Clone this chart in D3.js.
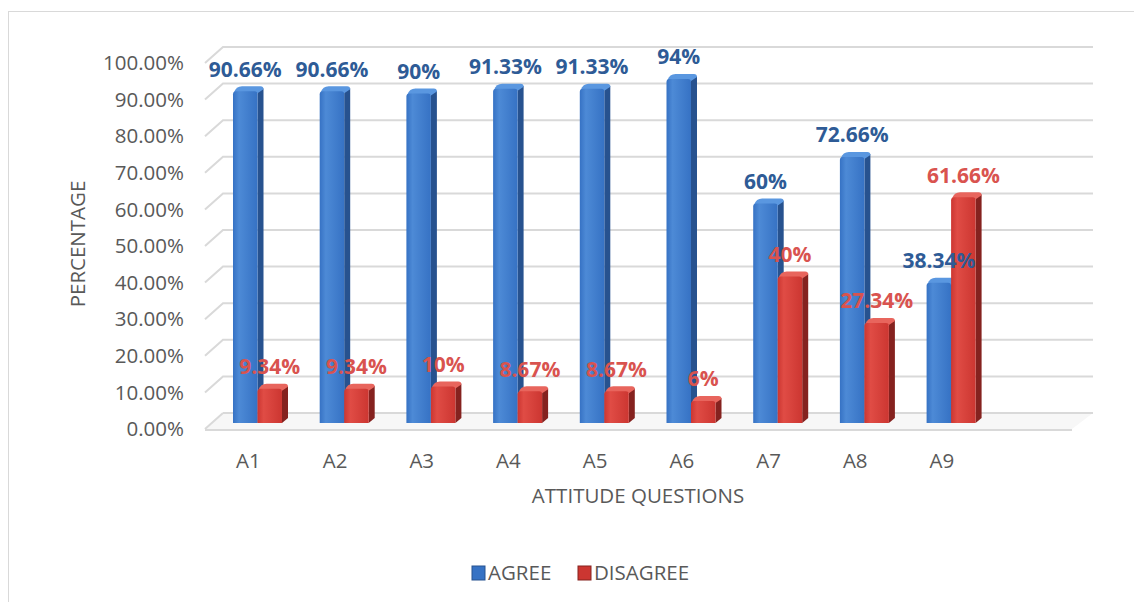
<!DOCTYPE html>
<html>
<head>
<meta charset="utf-8">
<script src="https://cdn.jsdelivr.net/npm/d3@7"></script>
<style>
  body { margin: 0; background: #fff; }
  svg { display: block; font-family: "Open Sans", sans-serif; }
</style>
</head>
<body>
<div id="chart"></div>
<script>
  "use strict";

  var categories = ["A1", "A2", "A3", "A4", "A5", "A6", "A7", "A8", "A9"];
  var agree = [90.66, 90.66, 90, 91.33, 91.33, 94, 60, 72.66, 38.34];
  var disagree = [9.34, 9.34, 10, 8.67, 8.67, 6, 40, 27.34, 61.66];
  var yTicks = [0, 10, 20, 30, 40, 50, 60, 70, 80, 90, 100];
  var seriesNames = ["AGREE", "DISAGREE"];

  var width = 1134, height = 602;

  // front plane of the 3d box
  var plot = {left: 205, right: 1072, bottom: 429, top: 63};
  // oblique offset from front plane to back wall
  var depth = {dx: 18, dy: -16};
  // bar front face offset and bar thickness
  var barOff = {dx: 7, dy: -6};
  var barDepth = {dx: 6, dy: -5};

  var colors = {
    agree: {light: "#4d8ad6", front: "#3672c4", side: "#27528f", top: "#5a97e0", text: "#2e5b96"},
    disagree: {light: "#e04c45", front: "#cc3631", side: "#85221f", top: "#e8655d", text: "#d9534f"}
  };

  var fontSize = 20.5;

  var svg = d3.select("#chart").append("svg")
    .attr("width", width)
    .attr("height", height);

  var defs = svg.append("defs");
  ["agree", "disagree"].forEach(function (k) {
    var g = defs.append("linearGradient").attr("id", "grad-" + k)
      .attr("x1", "0").attr("x2", "1").attr("y1", "0").attr("y2", "0");
    g.append("stop").attr("offset", "0").attr("stop-color", colors[k].front);
    g.append("stop").attr("offset", "0.25").attr("stop-color", colors[k].light);
    g.append("stop").attr("offset", "1").attr("stop-color", colors[k].front);
  });

  // chart border
  svg.append("rect")
    .attr("x", 8.5).attr("y", 11.5)
    .attr("width", 1140).attr("height", 600)
    .attr("fill", "none")
    .attr("stroke", "#d9d9d9")
    .attr("stroke-width", 1);

  // full 10 slot width, 9 categories used
  var step = (plot.right - plot.left) / 10;
  var x = d3.scaleBand()
    .domain(categories)
    .range([plot.left, plot.left + step * categories.length]);

  var y = d3.scaleLinear()
    .domain([0, 100])
    .range([plot.bottom, plot.top]);

  // gridlines: side wall segment + back wall line
  var grid = svg.append("g").attr("class", "grid");
  yTicks.filter(function (t) { return t > 0; }).forEach(function (t) {
    var yf = y(t);
    grid.append("path")
      .attr("d", "M" + plot.left + "," + yf +
                 "L" + (plot.left + depth.dx) + "," + (yf + depth.dy) +
                 "L" + (plot.right + depth.dx + 3) + "," + (yf + depth.dy))
      .attr("fill", "none")
      .attr("stroke", "#d9d9d9")
      .attr("stroke-width", 2);
  });

  // floor
  var yb = y(0);
  svg.append("path")
    .attr("d", "M" + plot.left + "," + yb +
               "L" + (plot.left + depth.dx) + "," + (yb + depth.dy) +
               "L" + (plot.right + depth.dx + 3) + "," + (yb + depth.dy) +
               "L" + plot.right + "," + yb + "Z")
    .attr("fill", "#f7f7f7")
    .attr("stroke", "none");
  svg.append("line")
    .attr("x1", plot.left + depth.dx).attr("x2", plot.right + depth.dx + 3)
    .attr("y1", yb + depth.dy).attr("y2", yb + depth.dy)
    .attr("stroke", "#d9d9d9").attr("stroke-width", 2);
  svg.append("line")
    .attr("x1", plot.left).attr("x2", plot.left + depth.dx)
    .attr("y1", yb).attr("y2", yb + depth.dy)
    .attr("stroke", "#d9d9d9").attr("stroke-width", 2);
  svg.append("line")
    .attr("x1", plot.left).attr("x2", plot.right)
    .attr("y1", yb + 1).attr("y2", yb + 1)
    .attr("stroke", "#d9d9d9").attr("stroke-width", 2);

  // bars
  var barW = 24.5;
  var groupPad = 21;
  var bars = svg.append("g").attr("class", "bars");
  var labels = svg.append("g").attr("class", "labels");

  function drawBar(key, xFront, v) {
    var c = colors[key];
    var x0 = xFront + barOff.dx;
    var yBase = y(0) + barOff.dy;
    var yTop = y(v) + barOff.dy;
    var g = bars.append("g");
    var r = 3;
    // side face
    g.append("path")
      .attr("d", "M" + (x0 + barW) + "," + (yTop + 1) +
                 "L" + (x0 + barW + barDepth.dx) + "," + (yTop + barDepth.dy + 2) +
                 "L" + (x0 + barW + barDepth.dx) + "," + (yBase + barDepth.dy) +
                 "L" + (x0 + barW) + "," + yBase + "Z")
      .attr("fill", c.side);
    // top face
    g.append("path")
      .attr("d", "M" + (x0 + 1) + "," + (yTop + 1) +
                 "Q" + (x0 + barDepth.dx / 2) + "," + (yTop + barDepth.dy) + " " + (x0 + barDepth.dx + 3) + "," + (yTop + barDepth.dy) +
                 "L" + (x0 + barW + barDepth.dx - 3) + "," + (yTop + barDepth.dy) +
                 "Q" + (x0 + barW + barDepth.dx) + "," + (yTop + barDepth.dy) + " " + (x0 + barW + barDepth.dx) + "," + (yTop + barDepth.dy + 3) +
                 "L" + (x0 + barW) + "," + (yTop + 2) + "Z")
      .attr("fill", c.top);
    // front face
    g.append("path")
      .attr("d", "M" + x0 + "," + yBase +
                 "L" + x0 + "," + (yTop + r) +
                 "Q" + x0 + "," + yTop + " " + (x0 + r) + "," + yTop +
                 "L" + (x0 + barW - r) + "," + yTop +
                 "Q" + (x0 + barW) + "," + yTop + " " + (x0 + barW) + "," + (yTop + r) +
                 "L" + (x0 + barW) + "," + yBase + "Z")
      .attr("fill", "url(#grad-" + key + ")");

    labels.append("text")
      .attr("x", x0 + barW / 2)
      .attr("y", yTop - 22)
      .attr("dy", "0.35em")
      .attr("text-anchor", "middle")
      .attr("font-size", 21)
      .attr("font-weight", 700)
      .attr("fill", c.text)
      .text(v + "%");
  }

  categories.forEach(function (cat, i) {
    var xs = x(cat) + groupPad;
    drawBar("agree", xs, agree[i]);
  });
  categories.forEach(function (cat, i) {
    var xs = x(cat) + groupPad;
    drawBar("disagree", xs + barW, disagree[i]);
  });

  // y axis labels
  var axisColor = "#595959";
  svg.append("g").selectAll("text")
    .data(yTicks)
    .join("text")
    .attr("x", 184)
    .attr("y", function (d) { return y(d); })
    .attr("dy", "0.35em")
    .attr("text-anchor", "end")
    .attr("font-size", fontSize)
    .attr("fill", axisColor)
    .text(function (d) { return d.toFixed(2) + "%"; });

  // x axis labels
  svg.append("g").selectAll("text")
    .data(categories)
    .join("text")
    .attr("x", function (d) { return x(d) + x.bandwidth() / 2; })
    .attr("y", 461)
    .attr("dy", "0.35em")
    .attr("text-anchor", "middle")
    .attr("font-size", fontSize)
    .attr("fill", axisColor)
    .text(function (d) { return d; });

  // axis titles
  svg.append("text")
    .attr("transform", "translate(78,244) rotate(-90)")
    .attr("dy", "0.35em")
    .attr("text-anchor", "middle")
    .attr("font-size", fontSize)
    .attr("fill", axisColor)
    .text("PERCENTAGE");

  svg.append("text")
    .attr("x", 638)
    .attr("y", 496)
    .attr("dy", "0.35em")
    .attr("text-anchor", "middle")
    .attr("font-size", fontSize)
    .attr("fill", axisColor)
    .text("ATTITUDE QUESTIONS");

  // legend
  var legend = svg.append("g").attr("class", "legend");
  var legendX = [472, 578];
  seriesNames.forEach(function (name, i) {
    var key = i === 0 ? "agree" : "disagree";
    legend.append("rect")
      .attr("x", legendX[i]).attr("y", 566)
      .attr("width", 13).attr("height", 14)
      .attr("fill", colors[key].front)
      .attr("stroke", colors[key].side)
      .attr("stroke-width", 1);
    legend.append("text")
      .attr("x", legendX[i] + 16)
      .attr("y", 573)
      .attr("dy", "0.35em")
      .attr("font-size", fontSize)
      .attr("fill", axisColor)
      .text(name);
  });
</script>
</body>
</html>
